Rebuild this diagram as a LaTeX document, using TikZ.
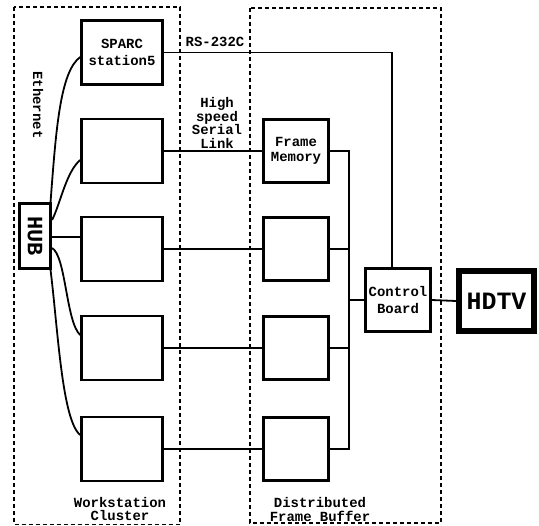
\documentclass[tikz,border=0pt]{standalone}
\usepackage{fontspec}
\usepackage{graphicx}
\newfontfamily\cour{Liberation Mono}
\begin{document}
\begin{tikzpicture}[x=1bp,y=-1bp,
  box/.style={draw, line width=2.6bp, minimum width=81bp, minimum height=64bp, inner sep=0pt, align=center,
    font=\cour\bfseries\fontsize{14}{17}\selectfont},
  fmbox/.style={draw, line width=2.6bp, minimum width=65bp, minimum height=63.5bp, inner sep=0pt, align=center,
    font=\cour\bfseries\fontsize{14}{15}\selectfont},
  cbbox/.style={fmbox, font=\cour\bfseries\fontsize{14}{17}\selectfont},
  hubbox/.style={draw, line width=2.6bp, minimum width=31.5bp, minimum height=65.5bp, inner sep=0pt,
    font=\cour\bfseries\fontsize{22}{22}\selectfont},
  tvbox/.style={draw, line width=6bp, minimum width=75bp, minimum height=60bp, inner sep=0pt,
    font=\cour\bfseries\fontsize{25}{25}\selectfont},
  lbl/.style={inner sep=0pt, align=center, font=\cour\bfseries\fontsize{14}{14}\selectfont},
  conn/.style={line width=1.8bp},
  dashbox/.style={line width=1.2bp, dash pattern=on 4bp off 3bp}]
\useasboundingbox (0,0) rectangle (539,526);
% dashed groups
\draw[dashbox] (14,7) rectangle (180,524.5);
\draw[dashbox] (250,8) rectangle (441,523);
% workstations
\node[box] (sparc) at (122,52.5) {SPARC\\station5};
\node[box] (w2) at (122,151) {};
\node[box] (w3) at (122,249) {};
\node[box] (w4) at (122,348) {};
\node[box] (w5) at (122,449) {};
% frame memories
\node[fmbox] (f1) at (296,151) {Frame\\Memory};
\node[fmbox] (f2) at (296,249) {};
\node[fmbox] (f3) at (296,348) {};
\node[fmbox] (f4) at (296,449) {};
% control board and HDTV
\node[cbbox] (cb) at (398,300) {Control\\Board};
\node[tvbox] (tv) at (496.5,301) {HDTV};
% hub
\node[hubbox] (hub) at (35,236) {\rotatebox{-90}{HUB}};
% labels
\node[lbl, rotate=-90] (eth) at (38,105) {Ethernet};
\node[lbl] (rs232) at (215,42) {RS-232C};
\node[lbl, font=\cour\bfseries\fontsize{14}{13.5}\selectfont] (hs) at (217,123) {High\\speed\\Serial\\Link};
\node[lbl] (wc) at (120,509) {Workstation\\Cluster};
\node[lbl] (dfb) at (320,509.5) {Distributed\\Frame Buffer};
% helper coordinates
\coordinate (bus) at (349,0);
\coordinate (rs) at (392,0);
% serial links
\draw[conn] (w2.east) -- (f1.west);
\draw[conn] (w3.east) -- (f2.west);
\draw[conn] (w4.east) -- (f3.west);
\draw[conn] (w5.east) -- (f4.west);
% bus
\draw[conn] (f1.east) -- (f1.east -| bus) -- (f4.east -| bus) -- (f4.east);
\draw[conn] (f2.east) -- (f2.east -| bus);
\draw[conn] (f3.east) -- (f3.east -| bus);
\draw[conn] (cb.west -| bus) -- (cb.west);
% RS-232C
\draw[conn] (sparc.east) -- (sparc.east -| rs) -- (rs |- cb.north);
% to HDTV
\draw[conn] (cb.east) -- (tv.west);
% ethernet
\draw[conn] ([xshift=-1.5bp]hub.north east) .. controls (56,130) and (60,72) .. ([yshift=-4.5bp]sparc.west);
\draw[conn] ([yshift=-18bp]hub.north east) .. controls (60,205) and (66,172) .. ([yshift=-9bp]w2.west);
\draw[conn] ([yshift=-1bp]hub.east) -- ([yshift=-1bp]hub.east -| w3.west);
\draw[conn] ([yshift=-12bp]hub.east) .. controls (66,256) and (66,322) .. ([yshift=13bp]w4.west);
\draw[conn] ([xshift=-1.5bp]hub.south east) .. controls (58,330) and (62,420) .. ([yshift=14bp]w5.west);
\end{tikzpicture}
\end{document}
